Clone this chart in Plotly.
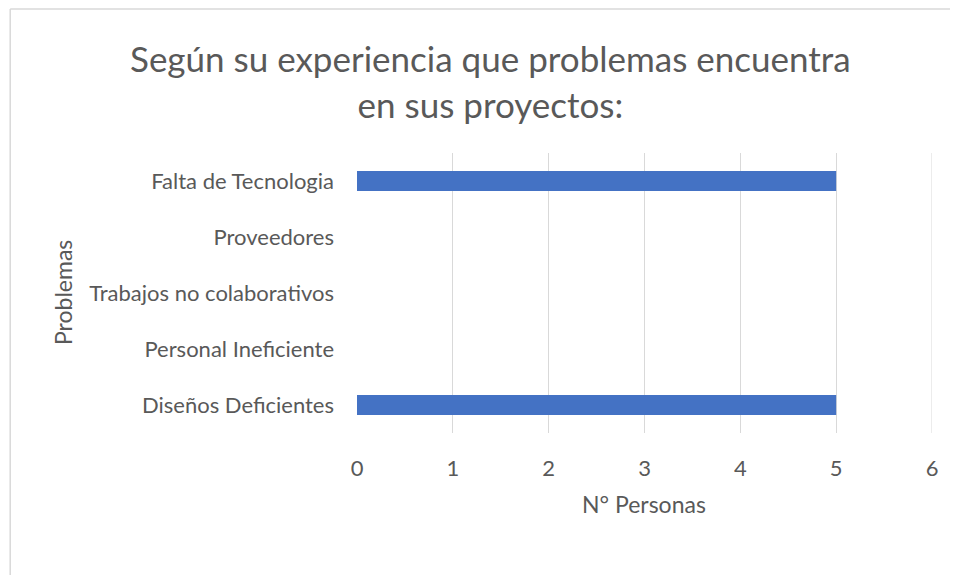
import plotly.graph_objects as go

categories = ["Diseños Deficientes", "Personal Ineficiente", "Trabajos no colaborativos",
              "Proveedores", "Falta de Tecnologia"]
values = [5, 0, 0, 0, 5]
x_ticks = [0, 1, 2, 3, 4, 5, 6]

title_text = "Según su experiencia que problemas encuentra<br>en sus proyectos:"
x_title = "N° Personas"
y_title = "Problemas"

FONT = "Lato, 'Open Sans', sans-serif"
GREY = "#595959"
GRID = "#d9d9d9"

OFF = 8  # page body margin
W, H = 958 - 2 * OFF, 583 - 2 * OFF
L, T = 357 - OFF, 153 - OFF
pw, ph = 577, 280
R, B = W - L - pw, H - T - ph

def px_x(p):
    return (p - OFF - L) / pw

def px_y(p):
    return (T + ph - (p - OFF)) / ph

fig = go.Figure(go.Bar(
    y=categories, x=values, orientation="h",
    marker=dict(color="#4472c4", line=dict(width=0)),
))

border = dict(color=GRID, width=1.5)

fig.update_layout(
    width=W, height=H,
    margin=dict(l=L, r=R, t=T, b=B),
    paper_bgcolor="white", plot_bgcolor="white",
    bargap=0.64,
    showlegend=False,
    font=dict(family=FONT, color=GREY, size=22),
    xaxis=dict(range=[x_ticks[0], x_ticks[-1]], tickvals=x_ticks, showgrid=True,
               gridcolor=GRID, gridwidth=1, zeroline=False, showline=False, ticks="",
               tickfont=dict(size=22, color=GREY), ticklabelstandoff=20,
               fixedrange=True),
    yaxis=dict(categoryorder="array", categoryarray=categories, showgrid=False,
               zeroline=False, showline=False, ticks="",
               tickfont=dict(size=22, color=GREY), ticklabelstandoff=22,
               fixedrange=True),
    shapes=[
        # gridline at the last tick (plotly omits gridlines on the plot edge)
        dict(type="line", xref="x", yref="paper", x0=x_ticks[-1], x1=x_ticks[-1],
             y0=0, y1=1, line=dict(color=GRID, width=1), layer="below"),
        dict(type="line", xref="paper", yref="paper",
             x0=px_x(9), x1=px_x(990), y0=px_y(9), y1=px_y(9), line=border, layer="below"),
        dict(type="line", xref="paper", yref="paper",
             x0=px_x(9), x1=px_x(9), y0=px_y(9), y1=px_y(620), line=border, layer="below"),
    ],
    annotations=[
        dict(text=title_text, xref="paper", yref="paper", x=px_x(491), y=px_y(81),
             xanchor="center", yanchor="middle", showarrow=False,
             font=dict(size=35, color=GREY, family=FONT)),
        dict(text=x_title, xref="paper", yref="paper", x=px_x(645), y=px_y(504),
             xanchor="center", yanchor="middle", showarrow=False,
             font=dict(size=23, color=GREY, family=FONT)),
        dict(text=y_title, xref="paper", yref="paper", x=px_x(62), y=px_y(293),
             xanchor="center", yanchor="middle", showarrow=False, textangle=-90,
             font=dict(size=23, color=GREY, family=FONT)),
    ],
)

fig.write_html("out.html")
